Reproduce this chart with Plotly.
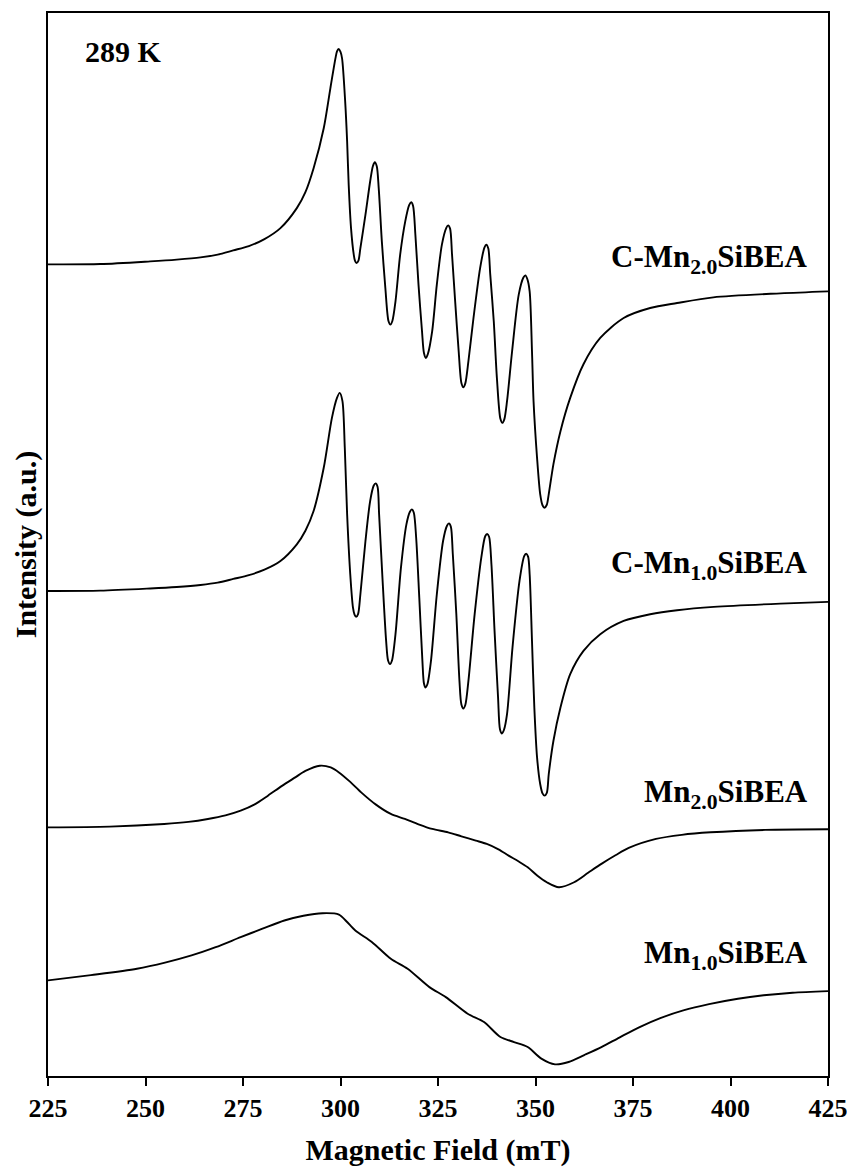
import plotly.graph_objects as go

# Magnetic field (mT) and stacked intensity (a.u.)
field_c20 = [225.0, 238.4, 251.2, 258.0, 264.1, 268.5, 272.5, 276.5, 280.5, 284.6, 288.8, 291.0, 293.1, 295.7, 297.4, 298.7,
             299.1, 299.5, 300.0, 300.4, 301.2, 301.7, 302.1, 302.7, 303.4, 303.7, 304.1, 304.6, 305.1, 306.4, 307.6,
             308.3, 308.8, 309.3, 309.8, 310.6, 311.5, 312.3, 312.8, 313.3, 314.1, 315.3, 316.6, 317.6, 318.1, 318.6,
             319.2, 320.0, 320.9, 321.4, 321.9, 322.4, 323.5, 324.7, 326.0, 327.1, 327.6, 328.1, 328.6, 329.4, 330.3,
             331.0, 331.5, 332.0, 332.8, 334.1, 335.8, 336.9, 337.4, 337.9, 338.4, 339.3, 340.1, 341.0, 341.5, 342.0,
             342.7, 344.0, 345.7, 346.9, 347.4, 347.9, 348.5, 349.1, 349.5, 350.4, 351.2, 351.8, 352.3, 352.9, 353.4,
             354.6, 356.4, 358.9, 362.3, 366.6, 372.6, 379.4, 386.3, 395.6, 412.8, 425.0]
int_c20 = [812.7, 813.0, 815.7, 817.5, 819.7, 822.5, 826.7, 831.0, 838.0, 849.0, 869.0, 885.0, 909.0, 949.0, 989.0, 1019.0,
           1026.0, 1028.4, 1025.5, 1019.0, 975.7, 935.7, 892.4, 849.0, 822.4, 816.5, 814.0, 816.5, 829.0, 862.4, 895.7,
           911.0, 915.0, 911.0, 889.0, 835.7, 789.0, 756.0, 752.4, 756.0, 775.7, 822.4, 855.7, 872.0, 875.0, 871.5,
           842.4, 792.4, 745.7, 724.0, 719.0, 723.0, 745.7, 792.4, 832.4, 849.0, 851.7, 848.5, 822.4, 775.7, 725.7,
           694.0, 689.7, 693.5, 715.7, 759.0, 809.0, 829.5, 832.4, 828.5, 802.4, 755.7, 699.0, 658.0, 654.0, 657.5,
           675.7, 725.7, 782.4, 799.5, 801.7, 798.0, 785.7, 725.7, 675.7, 619.0, 582.7, 571.5, 569.0, 572.0, 582.7,
           612.7, 645.7, 679.0, 712.7, 739.0, 759.0, 769.0, 774.0, 779.7, 783.7, 785.7]

field_c10 = [225.0, 238.4, 251.2, 258.0, 264.1, 268.5, 272.5, 276.5, 280.5, 284.6, 288.8, 291.0, 293.1, 295.7, 297.8,
             299.1, 299.8, 300.5, 301.1, 301.7, 302.5, 303.2, 303.6, 304.0, 304.5, 305.1, 306.4, 307.6, 308.5, 309.0,
             309.5, 309.9, 310.8, 311.7, 312.2, 312.7, 313.2, 314.1, 315.5, 316.9, 317.8, 318.3, 318.8, 319.4, 320.2,
             321.0, 321.4, 321.8, 322.3, 323.2, 324.7, 326.3, 327.3, 327.8, 328.3, 328.8, 329.7, 330.5, 331.0, 331.5,
             332.0, 332.8, 334.4, 336.1, 337.1, 337.6, 338.1, 338.7, 339.5, 340.4, 340.9, 341.4, 341.9, 342.7, 344.1,
             345.9, 347.1, 347.6, 348.1, 348.5, 349.1, 349.7, 350.4, 351.2, 351.8, 352.3, 352.9, 353.4, 354.6, 356.4,
             358.9, 362.3, 366.6, 372.6, 379.4, 386.3, 395.7, 412.8, 425.0]
int_c10 = [485.7, 486.0, 488.2, 489.7, 491.7, 494.0, 497.7, 501.5, 507.0, 515.7, 532.4, 546.0, 565.7, 609.0, 659.0,
           679.0, 684.0, 675.7, 629.0, 562.4, 502.4, 469.0, 462.0, 459.7, 462.5, 482.4, 535.7, 575.7, 591.0, 593.4,
           590.0, 562.4, 495.7, 435.7, 416.0, 412.4, 416.0, 442.4, 509.0, 552.4, 565.0, 567.4, 564.0, 539.0, 479.0,
           415.7, 393.0, 389.0, 392.5, 415.7, 482.4, 535.7, 551.0, 553.4, 550.0, 522.4, 462.4, 395.7, 372.0, 368.0,
           371.5, 395.7, 462.4, 519.0, 540.5, 542.7, 540.0, 512.4, 445.7, 379.0, 347.0, 343.0, 346.5, 362.4, 429.0,
           495.7, 520.5, 523.0, 520.0, 502.4, 435.7, 369.0, 319.0, 292.4, 283.0, 280.7, 283.5, 302.4, 335.7, 369.0,
           402.4, 425.7, 442.4, 455.7, 462.4, 466.4, 469.7, 473.0, 474.7]

field_m20 = [225.0, 240.8, 254.8, 261.0, 266.0, 270.5, 274.4, 278.0, 281.4, 285.0, 288.4, 291.0, 294.7, 297.5, 299.6, 302.5,
             305.3, 309.0, 312.9, 316.5, 320.0, 323.5, 327.6, 331.0, 334.7, 337.5, 340.5, 343.1, 345.6, 348.0, 350.5,
             352.9, 356.0, 359.9, 363.5, 366.9, 370.5, 373.9, 380.9, 387.5, 394.9, 408.9, 425.0]
int_m20 = [249.0, 249.7, 252.4, 254.5, 257.4, 261.0, 265.7, 272.0, 280.7, 290.5, 299.0, 305.5, 310.7, 309.0, 304.0, 294.5,
           284.0, 272.0, 262.4, 257.4, 252.0, 247.4, 244.0, 240.0, 235.7, 232.4, 227.0, 220.7, 215.0, 209.0, 200.5,
           194.0, 189.0, 194.0, 203.5, 212.4, 221.0, 228.4, 237.4, 241.5, 244.0, 246.4, 247.0]

field_m10 = [225.0, 236.0, 247.8, 255.0, 261.8, 268.0, 274.4, 280.0, 285.6, 290.5, 295.4, 299.6, 301.5, 303.8, 308.1,
             312.9, 317.2, 322.8, 327.0, 332.6, 336.8, 341.0, 344.5, 348.0, 351.5, 355.0, 358.5, 362.5, 366.9, 371.5,
             376.7, 382.0, 387.9, 394.5, 401.9, 408.5, 415.9, 425.0]
int_m10 = [95.7, 101.0, 107.4, 113.5, 120.7, 129.0, 139.0, 147.5, 155.7, 160.5, 163.0, 161.7, 155.0, 145.7, 134.0,
           117.4, 107.4, 89.0, 79.0, 62.4, 54.0, 39.0, 34.0, 29.0, 17.4, 11.7, 14.0, 21.0, 29.0, 38.5,
           49.0, 58.0, 65.7, 72.0, 77.4, 80.8, 83.4, 85.0]

x_ticks = [225, 250, 275, 300, 325, 350, 375, 400, 425]
series_names = ["C-Mn<sub>2.0</sub>SiBEA", "C-Mn<sub>1.0</sub>SiBEA", "Mn<sub>2.0</sub>SiBEA", "Mn<sub>1.0</sub>SiBEA"]
temperature_label = "289 K"

FONT = "Liberation Serif, Times New Roman, serif"

fig = go.Figure()
for fx, fy, name in [(field_c20, int_c20, series_names[0]), (field_c10, int_c10, series_names[1]),
                     (field_m20, int_m20, series_names[2]), (field_m10, int_m10, series_names[3])]:
    fig.add_trace(go.Scatter(x=fx, y=fy, mode="lines", name=name,
                             line=dict(color="black", width=1.9, shape="spline", smoothing=0.8),
                             showlegend=False, hoverinfo="x+y"))

label_pos = [(0.769, series_names[0]), (0.4806, series_names[1]), (0.2656, series_names[2]), (0.1134, series_names[3])]
for ypos, txt in label_pos:
    fig.add_annotation(x=0.9765, y=ypos, xref="paper", yref="paper", text="<b>" + txt + "</b>",
                       showarrow=False, xanchor="right", yanchor="middle",
                       font=dict(family=FONT, size=31, color="black"))

fig.add_annotation(x=0.045, y=0.9636, xref="paper", yref="paper", text="<b>" + temperature_label + "</b>",
                   showarrow=False, xanchor="left", yanchor="middle",
                   font=dict(family=FONT, size=30, color="black"))

fig.update_layout(
    width=847, height=1163,
    margin=dict(l=40, r=27, t=3, b=95),
    paper_bgcolor="white", plot_bgcolor="white",
    font=dict(family=FONT, color="black"),
)
fig.update_xaxes(
    range=[225, 425], tickvals=x_ticks, ticktext=[str(v) for v in x_ticks],
    ticks="outside", ticklen=8, tickwidth=1.5, tickcolor="black",
    tickfont=dict(family=FONT, size=26, color="black", weight="bold"),
    showline=True, linecolor="black", linewidth=2, mirror=True,
    showgrid=False, zeroline=False,
    title=dict(text="Magnetic Field (mT)", font=dict(family=FONT, size=30, color="black", weight="bold"), standoff=17),
)
fig.update_yaxes(
    range=[0, 1064.4], showticklabels=False, ticks="",
    showline=True, linecolor="black", linewidth=2, mirror=True,
    showgrid=False, zeroline=False,
    title=dict(text="Intensity (a.u.)", font=dict(family=FONT, size=30, color="black", weight="bold"), standoff=1),
)

fig.write_html("out.html")
